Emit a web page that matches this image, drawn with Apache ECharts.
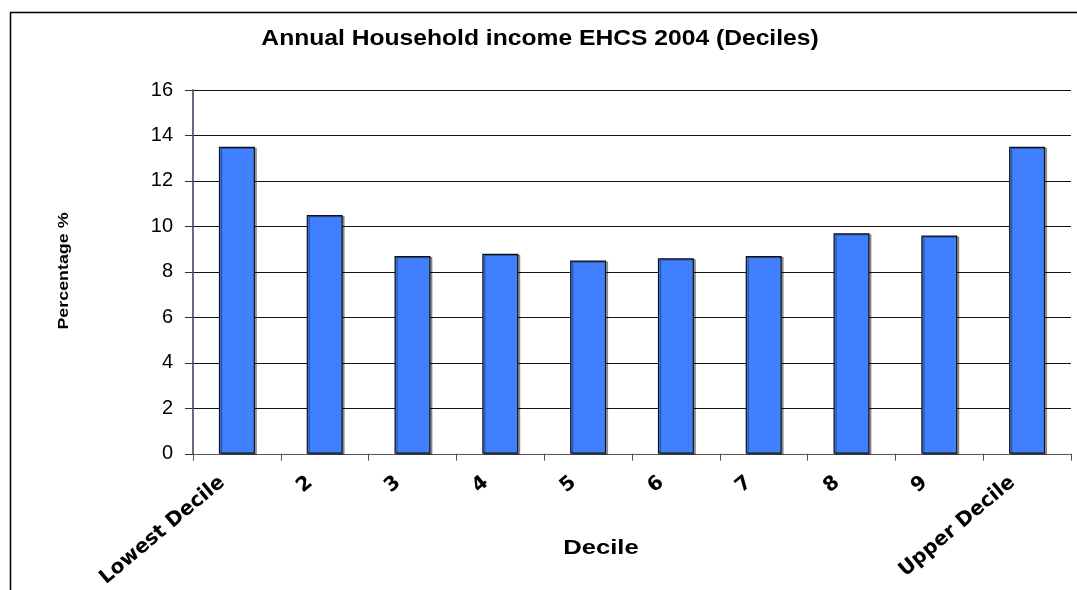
<!DOCTYPE html>
<html><head><meta charset="utf-8">
<script src="https://cdn.jsdelivr.net/npm/echarts@6/dist/echarts.min.js"></script>
<style>html,body{margin:0;padding:0;background:#fff}#c{width:1077px;height:590px}</style>
</head><body><div id="c"></div>
<script>
const categories = ['Lowest Decile','2','3','4','5','6','7','8','9','Upper Decile'];
const percentages = [13.5, 10.5, 8.7, 8.8, 8.5, 8.6, 8.7, 9.7, 9.6, 13.5];
const yTicks = {min: 0, max: 16, interval: 2};
const titleText = 'Annual Household income EHCS 2004 (Deciles)';
const xName = 'Decile';
const yName = 'Percentage %';

const chart = echarts.init(document.getElementById('c'), null, {renderer: 'canvas'});
const F = 'Liberation Sans, Arial, sans-serif';
const FB = 'DejaVu Sans, Liberation Sans, sans-serif';
chart.setOption({
  animation: false,
  backgroundColor: '#fff',
  graphic: [
    {type: 'rect', left: 8, top: 10, shape: {width: 1200, height: 700}, style: {fill: 'none', stroke: '#000', lineWidth: 1.5}, z: 0},
    {type: 'text', x: 540, y: 39, scaleX: 1.12, style: {text: titleText, x: 0, y: 0, align: 'center', verticalAlign: 'middle',
      font: 'bold 22px ' + F, fill: '#000'}},
    {type: 'text', x: 601, y: 548, scaleX: 1.28, style: {text: xName, x: 0, y: 0, align: 'center', verticalAlign: 'middle',
      font: 'bold 20px ' + F, fill: '#000'}},
    {type: 'text', x: 64, y: 271, rotation: Math.PI / 2, scaleX: 1.19, style: {text: yName, x: 0, y: 0, align: 'center', verticalAlign: 'middle',
      font: 'bold 15px ' + F, fill: '#000'}}
  ],
  grid: {left: 193, right: 6, top: 90, bottom: 136},
  xAxis: {type: 'category', data: categories, boundaryGap: true,
    axisLine: {lineStyle: {color: '#555', width: 1}},
    axisTick: {show: true, length: 7, inside: false, lineStyle: {color: '#555'}},
    axisLabel: {rotate: 40, interval: 0, margin: 14, padding: [0, 19, 0, 0], fontFamily: FB, fontWeight: 'bold', fontSize: 20, color: '#000'}},
  yAxis: {type: 'value', min: yTicks.min, max: yTicks.max, interval: yTicks.interval,
    axisLine: {show: true, lineStyle: {color: '#666a80', width: 2}},
    axisTick: {show: true, length: 8, lineStyle: {color: '#333'}},
    axisLabel: {margin: 20, fontFamily: F, fontSize: 20, color: '#000'},
    splitLine: {lineStyle: {color: '#111', width: 1}}},
  series: [{type: 'bar', data: percentages, barWidth: 36,
    itemStyle: {color: '#4080ff', borderColor: '#111', borderWidth: 1.2,
      shadowColor: 'rgba(0,0,0,0.35)', shadowOffsetX: 2, shadowOffsetY: 1, shadowBlur: 0}}]
});
</script></body></html>
